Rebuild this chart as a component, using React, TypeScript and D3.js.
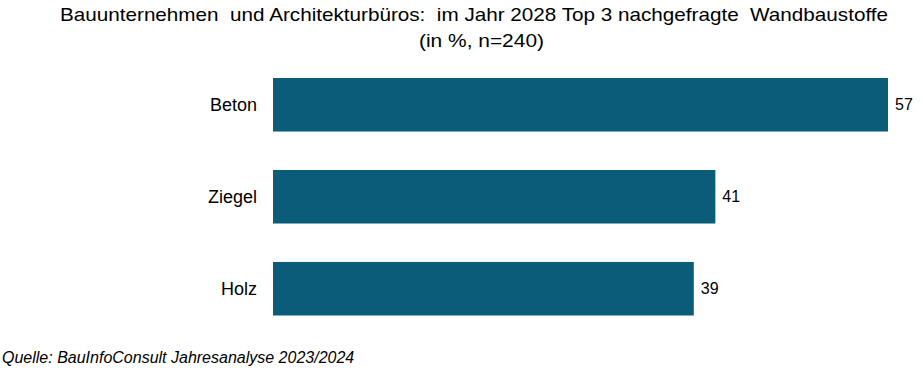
import React from "react";
import * as d3 from "d3";

const categories = ["Beton", "Ziegel", "Holz"];
const values = [57, 41, 39];
const titleLines = [
  "Bauunternehmen  und Architekturbüros:  im Jahr 2028 Top 3 nachgefragte  Wandbaustoffe",
  "(in %, n=240)",
];
const source = "Quelle: BauInfoConsult Jahresanalyse 2023/2024";

export default function App() {
  const W = 923, H = 380;
  const x = d3.scaleLinear().domain([0, 57]).range([273, 888]);
  const y = d3.scaleBand().domain(categories).range([32, 361.5]).paddingInner(0.418).paddingOuter(0.5);
  const sans = "'Liberation Sans', Arial, sans-serif";
  return (
    <svg width={W} height={H} style={{ position: "absolute", left: 0, top: 0, background: "#fff" }}>
      <g fontFamily={sans} fontSize={19} fill="#000" textAnchor="middle">
        <text x={474} y={21} style={{ whiteSpace: "pre" }} textLength={828} lengthAdjust="spacingAndGlyphs">{titleLines[0]}</text>
        <text x={481.5} y={46.5} textLength={125} lengthAdjust="spacingAndGlyphs">{titleLines[1]}</text>
      </g>
      {categories.map((c, i) => (
        <g key={c}>
          <rect x={x(0)} y={y(c)} width={x(values[i]) - x(0)} height={y.bandwidth()} fill="#0b5c78" />
          <text x={257} y={y(c)! + y.bandwidth() / 2} dy="0.35em" textAnchor="end" fontFamily={sans} fontSize={18} fill="#000">{c}</text>
          <text x={x(values[i]) + 7} y={y(c)! + y.bandwidth() / 2} dy="0.35em" fontFamily={sans} fontSize={16} fill="#000">{values[i]}</text>
        </g>
      ))}
      <text x={2} y={363} fontFamily={sans} fontStyle="italic" fontSize={16} fill="#000">{source}</text>
    </svg>
  );
}
